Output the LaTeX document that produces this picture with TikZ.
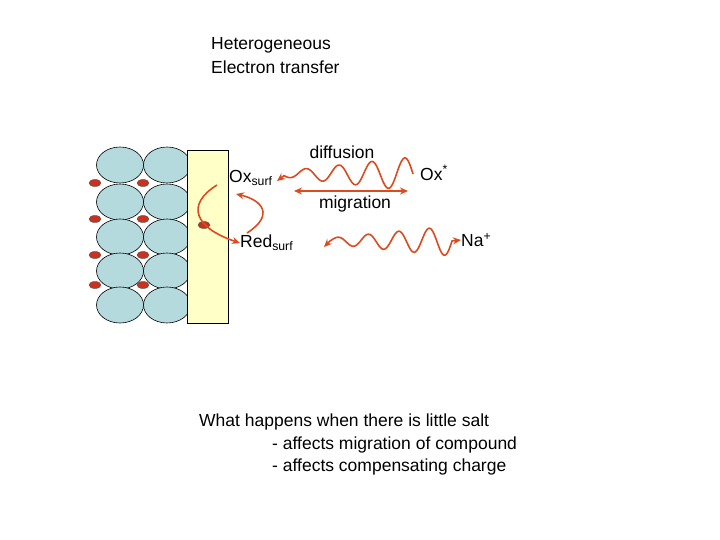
\documentclass[tikz,border=0pt]{standalone}
\usepackage{fontspec}
\setmainfont{Liberation Sans}
\usetikzlibrary{arrows.meta}
\definecolor{ored}{RGB}{220,75,30}
\definecolor{cellblue}{RGB}{180,218,222}
\definecolor{padyel}{RGB}{255,255,200}
\definecolor{blob}{RGB}{200,50,30}
\begin{document}
\begin{tikzpicture}[x=1pt,y=-1pt,
  cell/.style={draw=black,fill=cellblue,line width=0.6pt},
  dot/.style={draw=black!70,fill=blob,line width=0.4pt},
  arr/.style={draw=ored,line width=1.6pt,-{Stealth[length=8pt,width=7pt]}},
  darr/.style={draw=ored,line width=1.6pt,{Stealth[length=8pt,width=7pt]}-{Stealth[length=8pt,width=7pt]}},
  lab/.style={font=\fontsize{17.5}{20}\selectfont,inner sep=0pt}]
\useasboundingbox (0,0) rectangle (720,540);
\node[lab,anchor=west] (t1) at (211,45) {Heterogeneous};
\node[lab,anchor=west] (t2) at (211,67) {Electron transfer};
\foreach \y in {165,202,237,271,305}{
  \filldraw[cell] (120,\y) ellipse [x radius=23.5,y radius=18];
  \filldraw[cell] (167,\y) ellipse [x radius=23.5,y radius=18];}
\draw[fill=padyel,line width=0.6pt] (187,150) rectangle (228,323);
\foreach \y in {183,219,255,285}{
  \draw[dot] (95,\y) ellipse [x radius=6,y radius=3.5];
  \draw[dot] (143,\y) ellipse [x radius=6,y radius=3.5];}
\draw[dot] (204,225) ellipse [x radius=6,y radius=3.5];
\node[lab,anchor=west] (ox) at (229,178) {Ox\textsubscript{surf}};
\node[lab,anchor=west] (red) at (240,243) {Red\textsubscript{surf}};
\node[lab] (diff) at (342,152) {diffusion};
\node[lab] (mig) at (355,204) {migration};
\node[lab,anchor=west] (oxs) at (420,173) {Ox\textsuperscript{*}};
\node[lab,anchor=west] (na) at (461,240) {Na\textsuperscript{+}};
\coordinate (c1) at (217,185);
\coordinate (c2) at (247,233);
\draw[arr] (c1) .. controls (185,205) and (195,228) .. (red.west);
\draw[arr] (c2) .. controls (275,215) and (262,200) .. (236,194);
\draw[arr] plot[domain=413:284,samples=140,smooth] (\x,{174-(3+14*(\x-284)/129)*sin((413-\x)/33*360)}) -- (277,181);
\draw[darr] (294,191) -- (408,191);
\coordinate (w1) at (324,247);
\draw[darr] (w1) -- plot[domain=330:452,samples=140,smooth] (\x,{241-(3+12*(\x-330)/122)*sin((\x-330)/30.5*360)}) -- (na.west);
\node[lab,anchor=west] (b1) at (199,422) {What happens when there is little salt};
\node[lab,anchor=west] (b2) at (272,445) {- affects migration of compound};
\node[lab,anchor=west] (b3) at (272,467) {- affects compensating charge};
\end{tikzpicture}
\end{document}
